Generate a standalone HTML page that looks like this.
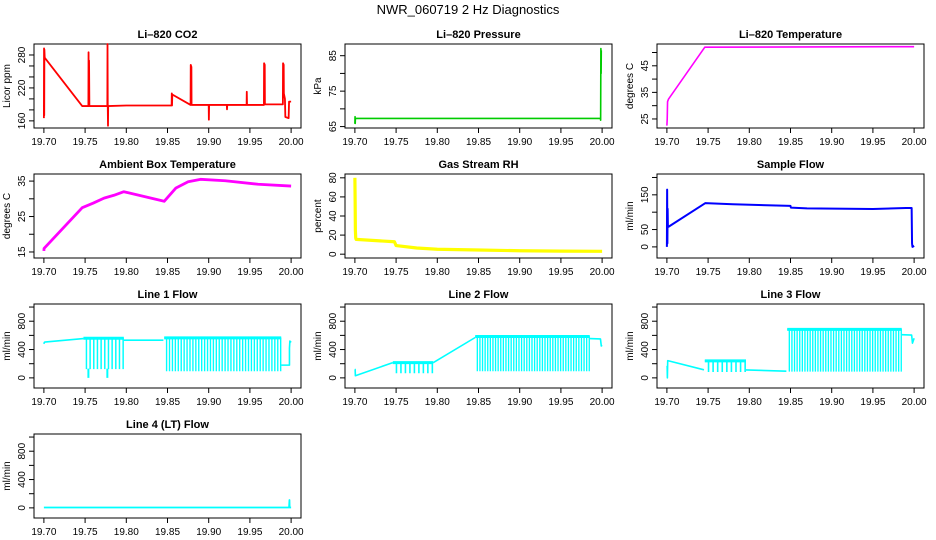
<!DOCTYPE html>
<html><head><meta charset="utf-8">
<style>
html,body{margin:0;padding:0;background:#fff;}
svg{display:block;font-family:"Liberation Sans",sans-serif;}
</style></head>
<body>
<svg id="chart" width="936" height="540" viewBox="0 0 936 540" xmlns="http://www.w3.org/2000/svg">
<text x="468" y="14" text-anchor="middle" font-size="13">NWR_060719  2 Hz Diagnostics</text>
</svg>
<script>
// ---- data ----
const xTicks = [19.70, 19.75, 19.80, 19.85, 19.90, 19.95, 20.00];
const xTickLabels = ["19.70","19.75","19.80","19.85","19.90","19.95","20.00"];
const flowTicks = [0,200,400,600,800,1000];
const flowLabels = ["0","","400","","800",""];

const co2X = [19.700,19.7002,19.7004,19.7006,19.701,19.7465,19.754,19.7542,19.7545,19.7548,19.7552,19.777,19.7772,19.7775,19.7778,19.778,19.80,19.855,19.8552,19.8555,19.8558,19.878,19.8782,19.879,19.8792,19.900,19.9002,19.9005,19.922,19.9222,19.9225,19.946,19.9462,19.9465,19.967,19.9672,19.968,19.9682,19.990,19.9902,19.991,19.9912,19.9925,19.993,19.997,19.9975,20.000];
const co2Y = [165,292,170,290,275,187,187,285,187,270,187,187,300,187,151,187,188,188,210,188,208,189,262,258,189,189,162,189,189,181,189,189,213,189,189,265,262,190,190,265,262,210,200,167,165,195,195];

const presX = [19.700,19.7002,19.7004,19.7006,19.998,19.9982,19.9985,19.9988,19.999];
const presY = [65.8,67.8,65.9,67.3,67.3,66.8,87.0,80.0,86.5];

const ltempX = [19.700,19.7004,19.7008,19.702,19.746,20.000];
const ltempY = [22.5,25.0,31.5,32.5,52.0,52.2];

const ambX = [19.700,19.7002,19.7465,19.76,19.773,19.785,19.797,19.846,19.86,19.875,19.89,19.92,19.96,20.000];
const ambY = [15.3,16.0,27.5,28.8,30.2,31.0,32.0,29.3,33.0,34.8,35.5,35.1,34.1,33.6];

const rhX = [19.700,19.7003,19.7006,19.701,19.7015,19.748,19.75,19.775,19.80,19.85,19.90,19.95,20.000];
const rhY = [80,55,25,17,15.5,13,9,6.5,5.2,4.4,3.6,3.2,3.0];

const sampX = [19.700,19.7003,19.7006,19.7009,19.7012,19.702,19.7465,19.78,19.85,19.8505,19.87,19.95,19.99,19.997,19.9975,19.998,20.000];
const sampY = [0,165,10,110,60,58,126,123,118,113,111,109,112,112,10,0,3];

const l1X = [19.700,19.7005,19.701,19.748];
const l1Y = [480,500,505,555];
const l1X2 = [19.797,19.845];
const l1Y2 = [532,532];
const l1X3 = [19.988,19.998,19.998,19.9985,20.000];
const l1Y3 = [180,180,420,520,500];
const l1DipX = [19.754,19.777];
const l1DipY = [0,0];
// pulse regions: start, end, high, low, count
const l1Pulses = [[19.748,19.797,560,130,11],[19.846,19.988,565,100,40]];

const l2X = [19.700,19.7003,19.7006,19.746];
const l2Y = [120,120,30,215];
const l2X2 = [19.795,19.846];
const l2Y2 = [215,570];
const l2X3 = [19.985,19.998,19.999,20.000];
const l2Y3 = [555,550,450,460];
const l2Pulses = [[19.746,19.795,215,72,9],[19.846,19.985,585,100,44]];

const l3X = [19.700,19.7003,19.7006,19.701,19.745];
const l3Y = [170,170,0,243,114];
const l3X2 = [19.796,19.845];
const l3Y2 = [112,95];
const l3X3 = [19.985,19.997,19.998,20.000];
const l3Y3 = [610,605,490,560];
const l3Pulses = [[19.746,19.796,240,90,9],[19.846,19.985,685,95,44]];

const l4X = [19.700,19.9975,19.998,19.9982,19.9985,20.000];
const l4Y = [5,5,110,5,5,5];

// ---- drawing ----
const svg = document.getElementById('chart');
const NS = 'http://www.w3.org/2000/svg';
const colL = [34,345,657], rowT = [44,174,304,434], BW = 267, BH = 84;
function mk(tag, attrs, parent){
  const e = document.createElementNS(NS, tag);
  for (const k in attrs) e.setAttribute(k, attrs[k]);
  (parent||svg).appendChild(e);
  return e;
}
function panel(name, col, row, title, ylab, ydom, ticks, labels){
  const g = mk('g', {});
  
  
  const L = colL[col], T = rowT[row];
  const xs = v => L + (v - 19.688) / 0.324 * BW;
  const ys = v => T + BH - (v - ydom[0]) / (ydom[1] - ydom[0]) * BH;
  const box = mk('rect', {x:L, y:T, width:BW, height:BH, fill:'none', stroke:'#000', 'stroke-width':1}, g);
  
  
  const t = mk('text', {x:L+BW/2, y:T-6, 'text-anchor':'middle', 'font-size':11, 'font-weight':'bold'}, g);
  t.textContent = title;
  
  
  const xa = mk('g', {}, g);
  
  
  mk('line', {x1:xs(xTicks[0]), x2:xs(xTicks[xTicks.length-1]), y1:T+BH, y2:T+BH, stroke:'#000'}, xa);
  xTicks.forEach((v,i) => {
    mk('line', {x1:xs(v), x2:xs(v), y1:T+BH, y2:T+BH+5, stroke:'#000'}, xa);
    const tl = mk('text', {x:xs(v), y:T+BH+17, 'text-anchor':'middle', 'font-size':10}, xa);
    tl.textContent = xTickLabels[i];
  });
  const ya = mk('g', {}, g);
  
  
  ticks.forEach((v,i) => {
    mk('line', {x1:L-5, x2:L, y1:ys(v), y2:ys(v), stroke:'#000'}, ya);
    if (labels[i]) {
      const tl = mk('text', {x:L-9, y:ys(v), 'text-anchor':'middle', 'font-size':10, transform:`rotate(-90 ${L-9} ${ys(v)})`}, ya);
      tl.textContent = labels[i];
    }
  });
  const yl = mk('text', {x:L-24, y:T+BH/2, 'text-anchor':'middle', 'font-size':10, transform:`rotate(-90 ${L-24} ${T+BH/2})`}, g);
  yl.textContent = ylab;
  
  
  return {g, xs, ys};
}
function line(p, name, X, Y, color, w){
  const pts = X.map((x,i) => p.xs(x).toFixed(2) + ',' + p.ys(Y[i]).toFixed(2)).join(' ');
  const e = mk('polyline', {points:pts, fill:'none', stroke:color, 'stroke-width':w||1.4, 'stroke-linejoin':'round'}, p.g);
  
  
}
function pulses(p, name, regions, color){
  regions.forEach((r, k) => {
    const [a, b, hi, lo, n] = r;
    const per = (b - a) / n;
    let d = `M${p.xs(a)},${p.ys(hi)}`;
    for (let i = 0; i < n; i++) {
      const s = a + i * per, e1 = s + per * 0.75, e2 = s + per * 0.88;
      d += ` L${p.xs(e1)},${p.ys(hi)} L${p.xs(e1)},${p.ys(lo)} L${p.xs(e2)},${p.ys(lo)} L${p.xs(e2)},${p.ys(hi)} L${p.xs(s+per)},${p.ys(hi)}`;
    }
    const e = mk('path', {d, fill:'none', stroke:color, 'stroke-width':1}, p.g);
    
    
    const hb = mk('line', {x1:p.xs(a), x2:p.xs(b), y1:p.ys(hi), y2:p.ys(hi), stroke:color, 'stroke-width':3}, p.g);
    
    
  });
}
function dips(p, name, X, Y, base, color){
  X.forEach((x,i) => {
    const e = mk('line', {x1:p.xs(x), x2:p.xs(x), y1:p.ys(base), y2:p.ys(Y[i]), stroke:color, 'stroke-width':2}, p.g);
    
    
  });
}

let p;
p = panel('co2', 0, 0, 'Li\u2013820 CO2', 'Licor ppm', [147,300], [160,180,200,220,240,260,280], ['160','','','220','','','280']);
line(p, 'co2-series', co2X, co2Y, '#ff0000', 1.8);

p = panel('pressure', 1, 0, 'Li\u2013820 Pressure', 'kPa', [64.6,88.3], [65,70,75,80,85], ['65','','75','','85']);
line(p, 'pressure-series', presX, presY, '#00cc00', 1.6);

p = panel('li820-temp', 2, 0, 'Li\u2013820 Temperature', 'degrees C', [21.6,53.2], [25,30,35,40,45,50], ['25','','35','','45','']);
line(p, 'li820-temp-series', ltempX, ltempY, '#ff00ff', 1.6);

p = panel('ambient-temp', 0, 1, 'Ambient Box Temperature', 'degrees C', [13.3,37], [15,20,25,30,35], ['15','','25','','35']);
line(p, 'ambient-temp-series', ambX, ambY, '#ff00ff', 2.8);

p = panel('rh', 1, 1, 'Gas Stream RH', 'percent', [-4,84], [0,20,40,60,80], ['0','20','40','60','80']);
line(p, 'rh-series', rhX, rhY, '#ffff00', 3.2);

p = panel('sample-flow', 2, 1, 'Sample Flow', 'ml/min', [-32,210], [0,50,100,150,200], ['0','50','','150','']);
line(p, 'sample-flow-series', sampX, sampY, '#0000ff', 2);

p = panel('line1-flow', 0, 2, 'Line 1 Flow', 'ml/min', [-143,1043], flowTicks, flowLabels);
line(p, 'line1-series-a', l1X, l1Y, '#00ffff', 1.6);
line(p, 'line1-series-b', l1X2, l1Y2, '#00ffff', 1.6);
line(p, 'line1-series-c', l1X3, l1Y3, '#00ffff', 1.6);
pulses(p, 'line1-pulses', l1Pulses, '#00ffff');
dips(p, 'line1-dip', l1DipX, l1DipY, 130, '#00ffff');

p = panel('line2-flow', 1, 2, 'Line 2 Flow', 'ml/min', [-143,1043], flowTicks, flowLabels);
line(p, 'line2-series-a', l2X, l2Y, '#00ffff', 1.6);
line(p, 'line2-series-b', l2X2, l2Y2, '#00ffff', 1.6);
line(p, 'line2-series-c', l2X3, l2Y3, '#00ffff', 1.6);
pulses(p, 'line2-pulses', l2Pulses, '#00ffff');

p = panel('line3-flow', 2, 2, 'Line 3 Flow', 'ml/min', [-143,1043], flowTicks, flowLabels);
line(p, 'line3-series-a', l3X, l3Y, '#00ffff', 1.6);
line(p, 'line3-series-b', l3X2, l3Y2, '#00ffff', 1.6);
line(p, 'line3-series-c', l3X3, l3Y3, '#00ffff', 1.6);
pulses(p, 'line3-pulses', l3Pulses, '#00ffff');

p = panel('line4-flow', 0, 3, 'Line 4 (LT) Flow', 'ml/min', [-143,1043], flowTicks, flowLabels);
line(p, 'line4-series', l4X, l4Y, '#00ffff', 1.8);
</script>
</body></html>
